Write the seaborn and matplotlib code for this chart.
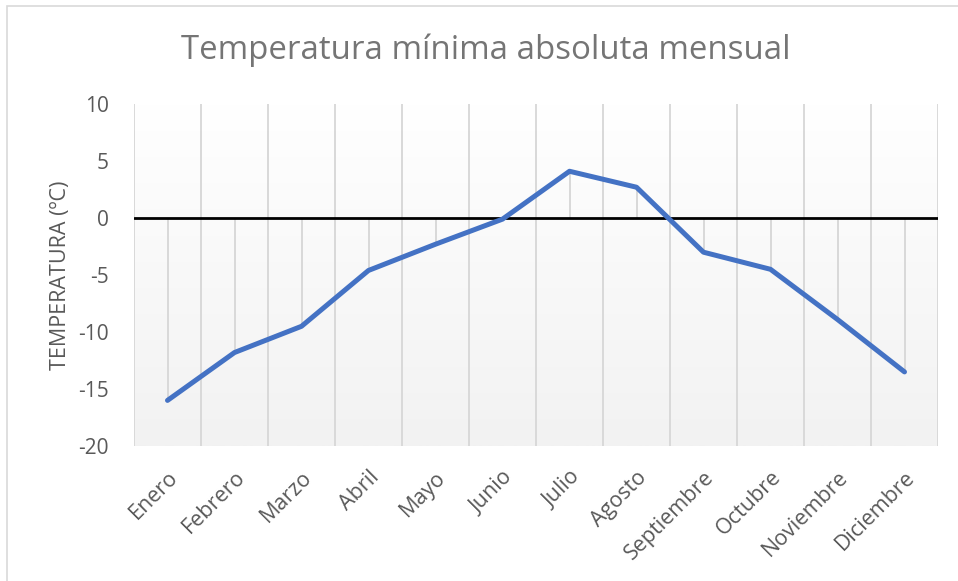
import numpy as np
import pandas as pd
import matplotlib
matplotlib.use("Agg")
import matplotlib.pyplot as plt
import seaborn as sns
from matplotlib.patches import Rectangle

months = ["Enero", "Febrero", "Marzo", "Abril", "Mayo", "Junio", "Julio",
          "Agosto", "Septiembre", "Octubre", "Noviembre", "Diciembre"]
tmin = [-16.0, -11.8, -9.5, -4.6, -2.3, -0.1, 4.1, 2.7, -3.0, -4.5, -8.9, -13.5]
yticks = [10, 5, 0, -5, -10, -15, -20]

title = "Temperatura mínima absoluta mensual"
ylabel = "TEMPERATURA (ºC)"

sns.set_theme(style="white")
plt.rcParams['font.family'] = ['Open Sans', 'DejaVu Sans']

df = pd.DataFrame({"mes": months, "t": tmin})
df["x"] = np.arange(len(months))

fig = plt.figure(figsize=(9.58, 5.81), dpi=100)
fig.patch.set_facecolor("white")
# chart border
fig.patches.append(Rectangle((7/958, -0.05), 1.2, 1 - 6/581 + 0.05, transform=fig.transFigure,
                             fill=False, edgecolor="#d9d9d9", linewidth=1.2, zorder=0))

ax = fig.add_axes([134/958, 1 - 446/581, (938 - 134)/958, (446 - 104)/581])
n = len(months)
ax.set_xlim(-0.5, n - 0.5)
ax.set_ylim(-20, 10)

# gradient background
grad = np.linspace(1.0, 0.0, 256).reshape(-1, 1)
cmap = matplotlib.colors.LinearSegmentedColormap.from_list("g", ["#f2f2f2", "#ffffff"])
ax.imshow(grad, extent=(-0.5, n - 0.5, -20, 10), aspect="auto", cmap=cmap,
          vmin=0, vmax=1, zorder=0, origin="upper")

# vertical gridlines at category boundaries
for b in np.arange(-0.5, n, 1.0):
    ax.axvline(b, color="#d9d9d9", lw=1.4, zorder=1)

# drop lines from zero to each point
ax.vlines(df["x"], 0, df["t"], color="#d9d9d9", lw=1.4, zorder=1)

ax.axhline(0, color="black", lw=2.0, zorder=2)

sns.lineplot(data=df, x="x", y="t", ax=ax, color="#4472c4", lw=3.6, zorder=3,
             solid_capstyle="round", solid_joinstyle="round")

for s in ax.spines.values():
    s.set_visible(False)

ax.set_yticks(yticks)
ax.set_yticklabels([str(v) for v in yticks])
ax.set_xticks(df["x"])
ax.set_xticklabels(months, rotation=45, ha="right", rotation_mode="anchor")
ax.tick_params(axis="y", length=0, pad=18, labelsize=15, labelcolor="#595959")
ax.tick_params(axis="x", length=0, pad=15, labelsize=15.5, labelcolor="#595959")
ax.set_xlabel("")
ax.set_ylabel(ylabel, fontsize=15.5, color="#595959", labelpad=5)

fig.text(486/958, 1 - 50/581, title, ha="center", va="center", fontsize=23.8, color="#757575")

fig.savefig("out.png", dpi=100)
